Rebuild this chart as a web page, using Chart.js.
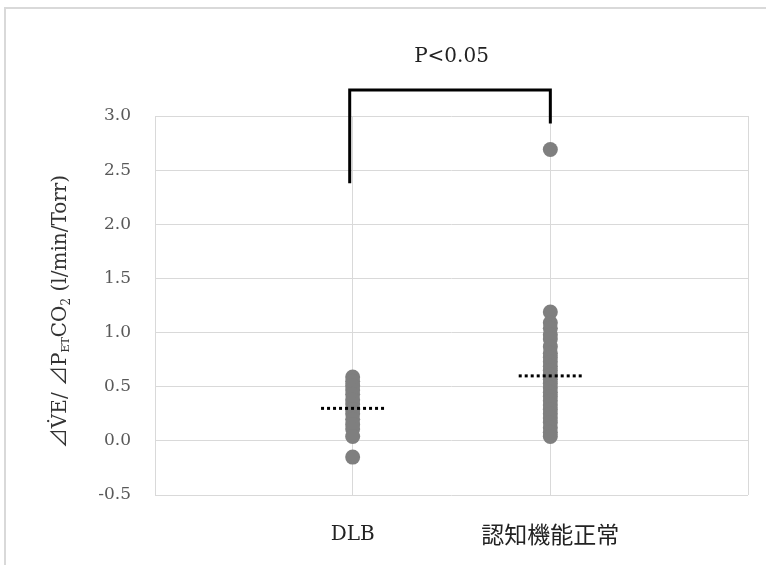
<!DOCTYPE html>
<html>
<head>
<meta charset="utf-8">
<script src="https://cdn.jsdelivr.net/npm/chart.js@4/dist/chart.umd.min.js"></script>
<style>
    body { margin: 0; background: #fff; }
</style>
</head>
<body>
<canvas id="ventChart" width="766" height="565"></canvas>
<script>
// data
const categories = ['DLB', '認知機能正常'];
const dlbValues = [0.59, 0.55, 0.51, 0.47, 0.43, 0.38, 0.34, 0.29, 0.25, 0.20, 0.15, 0.11, 0.04, -0.15];
const normalValues = [2.69, 1.19, 1.09, 1.04, 0.98, 0.94, 0.87, 0.81, 0.77, 0.73, 0.69, 0.65, 0.61, 0.57,
    0.53, 0.49, 0.45, 0.41, 0.37, 0.33, 0.29, 0.25, 0.21, 0.17, 0.12, 0.08, 0.04];
const meanValues = [0.30, 0.60];
const yMin = -0.5, yMax = 3.0, yStep = 0.5;
const bracketTop = 3.24;
const bracketEnds = [2.38, 2.93];
const pLabel = 'P<0.05';

const serif = "'DejaVu Serif', 'Liberation Serif', 'Noto Sans CJK JP', serif";

function toPoints(idx, values) {
    return values.map(v => ({ x: idx + 1, y: v }));
}

const meanSets = meanValues.map((m, i) => ({
    type: 'line',
    data: [{ x: i + 1 - 0.16, y: m }, { x: i + 1 + 0.16, y: m }],
    showLine: true,
    borderColor: '#000',
    borderWidth: 3,
    borderDash: [3, 3],
    pointRadius: 0,
    order: 0
}));

const bracketSet = {
    type: 'line',
    data: [
        { x: 0.985, y: bracketEnds[0] },
        { x: 0.985, y: bracketTop },
        { x: 2, y: bracketTop },
        { x: 2, y: bracketEnds[1] }
    ],
    showLine: true,
    borderColor: '#000',
    borderWidth: 3,
    borderJoinStyle: 'miter',
    pointRadius: 0,
    clip: false,
    order: 0
};

const pointSets = [dlbValues, normalValues].map((vals, i) => ({
    data: toPoints(i, vals),
    backgroundColor: '#7f7f7f',
    borderWidth: 0,
    pointRadius: 7.5,
    pointHoverRadius: 7.5,
    order: 1
}));

// frame, axis title and p-value label
const extras = {
    id: 'extras',
    beforeDraw(chart) {
        const c = chart.ctx;
        c.save();
        c.strokeStyle = '#d9d9d9';
        c.lineWidth = 2;
        c.strokeRect(5, 8, 800, 600);
        c.restore();
    },
    afterDraw(chart) {
        const c = chart.ctx;
        const xs = chart.scales.x, ys = chart.scales.y;

        c.save();
        c.fillStyle = '#222';
        c.font = '20px ' + serif;
        c.textAlign = 'center';
        c.textBaseline = 'middle';
        c.fillText(pLabel, xs.getPixelForValue(1.5), ys.getPixelForValue(3.55));
        c.restore();

        const parts = [
            { t: '⊿V\u0307E/ ⊿P', size: 20, dy: 0 },
            { t: 'ET', size: 11, dy: 3 },
            { t: 'CO', size: 20, dy: 0 },
            { t: '2', size: 12, dy: 4 },
            { t: ' (l/min/Torr)', size: 20, dy: 0 }
        ];
        c.save();
        c.fillStyle = '#333';
        c.textBaseline = 'alphabetic';
        c.textAlign = 'left';
        let total = 0;
        parts.forEach(p => {
            c.font = p.size + 'px ' + serif;
            p.w = c.measureText(p.t).width;
            total += p.w;
        });
        c.translate(66, (ys.top + ys.bottom) / 2 + 6);
        c.rotate(-Math.PI / 2);
        let xPos = -total / 2;
        parts.forEach(p => {
            c.font = p.size + 'px ' + serif;
            c.fillText(p.t, xPos, p.dy);
            xPos += p.w;
        });
        c.restore();
    }
};

const chart = new Chart(document.getElementById('ventChart'), {
    type: 'scatter',
    data: {
        datasets: [...meanSets, bracketSet, ...pointSets]
    },
    options: {
        responsive: false,
        animation: false,
        layout: {
            autoPadding: false,
            padding: { top: 116, right: 18, bottom: 10, left: 10 }
        },
        scales: {
            x: {
                type: 'linear',
                min: 0,
                max: 3,
                afterFit: s => {
                    s.height = 60;
                    s.paddingLeft = 0;
                    s.paddingRight = 0;
                },
                afterBuildTicks: s => {
                    s.ticks = [0, 1, 2, 3].map(v => ({ value: v }));
                },
                grid: { color: '#d9d9d9', drawTicks: false },
                border: { display: false },
                ticks: {
                    padding: 28,
                    color: '#222',
                    font: ctx => ({ family: serif, size: ctx.tick && ctx.tick.value === 2 ? 23 : 20 }),
                    callback: v => (v >= 1 && v <= 2) ? categories[v - 1] : ''
                }
            },
            y: {
                min: yMin,
                max: yMax,
                afterFit: s => { s.width = 145; },
                grid: { color: '#d9d9d9', drawTicks: false },
                border: { display: false },
                ticks: {
                    stepSize: yStep,
                    padding: 24,
                    color: '#595959',
                    font: { family: serif, size: 17 },
                    callback: v => v.toFixed(1)
                }
            }
        },
        plugins: {
            legend: { display: false },
            tooltip: { enabled: false }
        }
    },
    plugins: [extras]
});
</script>
</body>
</html>
